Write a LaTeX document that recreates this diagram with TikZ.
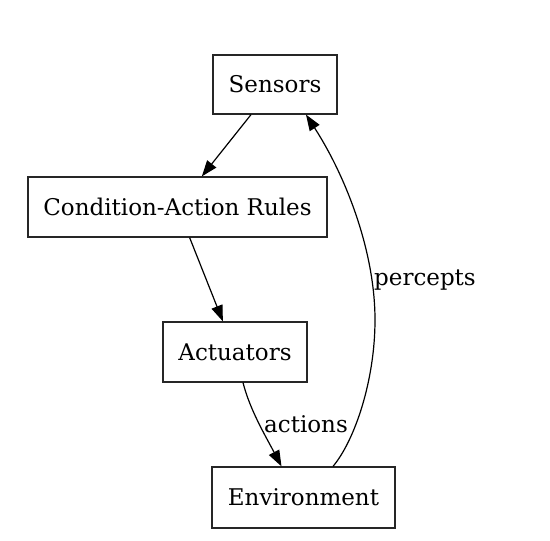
\documentclass[tikz,border=0pt]{standalone}
\usepackage{fontspec}
\setmainfont{DejaVu Serif}
\usetikzlibrary{arrows.meta,calc}
\begin{document}
\begin{tikzpicture}[x=1pt,y=-1pt,
  box/.style={draw=black!85,line width=1.2pt,rectangle,inner sep=0pt,font=\fontsize{23}{27}\selectfont},
  conn/.style={line width=1.2pt,-{Triangle[length=16pt,width=11.5pt]}},
  lbl/.style={inner sep=0pt,font=\fontsize{23}{27}\selectfont}]
\useasboundingbox (0,0) rectangle (550,541);
\node[box,minimum width=124pt,minimum height=59pt] (sens) at (275,84.5) {Sensors};
\node[box,minimum width=299pt,minimum height=60pt] (car) at (177.5,207) {Condition-Action Rules};
\node[box,minimum width=144pt,minimum height=60pt] (act) at (235,352) {Actuators};
\node[box,minimum width=183pt,minimum height=61pt] (env) at (303.5,497.5) {Environment};
\draw[conn] (sens) -- (car);
\draw[conn] (car) -- (act);
\draw[conn] ($(act.south)+(8,0)$) .. controls (250,410) and (265,435) .. ($(env.north)+(-22,0)$);
\node[lbl] (lact) at (306,424) {actions};
\coordinate (pm) at (375,320);
\draw[conn] ($(env.north)+(29.5,0)$) .. controls (355,440) and (375,380) .. (pm)
  .. controls (375,250) and (345,175) .. ($(sens.south)+(31,0)$);
\node[lbl,anchor=west] (lper) at (374,280) {percepts};
\end{tikzpicture}
\end{document}
